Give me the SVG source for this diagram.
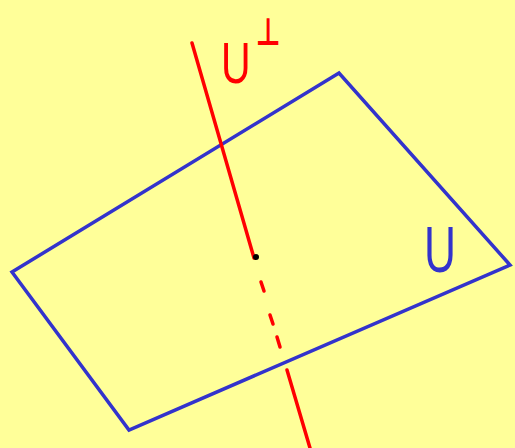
<svg xmlns="http://www.w3.org/2000/svg" width="515" height="448" viewBox="0 0 515 448">
<style>
.plane{fill:none;stroke:#3333CC;stroke-width:3.5;stroke-linejoin:miter}
.ln{stroke:#FF0000;stroke-width:3.5;stroke-linecap:round;fill:none}
.lbl{font-family:"Liberation Sans","DejaVu Sans",sans-serif}
</style>
<rect width="515" height="448" fill="#FFFF99"/>
<g id="plane-U">
<polygon class="plane" points="12,272 339,73 510,265 129,430"/>
<text class="lbl" x="424" y="272" font-size="65" fill="#3333CC" textLength="32" lengthAdjust="spacingAndGlyphs">U</text>
</g>
<g id="connectors">
<line class="ln" x1="192" y1="43" x2="254" y2="258"/>
<line class="ln" x1="261" y1="282" x2="264" y2="291"/>
<line class="ln" x1="270" y1="315" x2="273" y2="324"/>
<line class="ln" x1="277" y1="337" x2="280" y2="347"/>
<line class="ln" x1="287" y1="370" x2="310" y2="448"/>
</g>
<g id="line-Uperp">
<circle cx="256" cy="257" r="3" fill="#000"/>
<text class="lbl" transform="translate(221,83) scale(0.72,1)" font-size="57" fill="#FF0000">U<tspan font-family="DejaVu Sans,sans-serif" font-size="38" font-weight="bold" dx="7" dy="-38">⊥</tspan></text>
</g>
</svg>
